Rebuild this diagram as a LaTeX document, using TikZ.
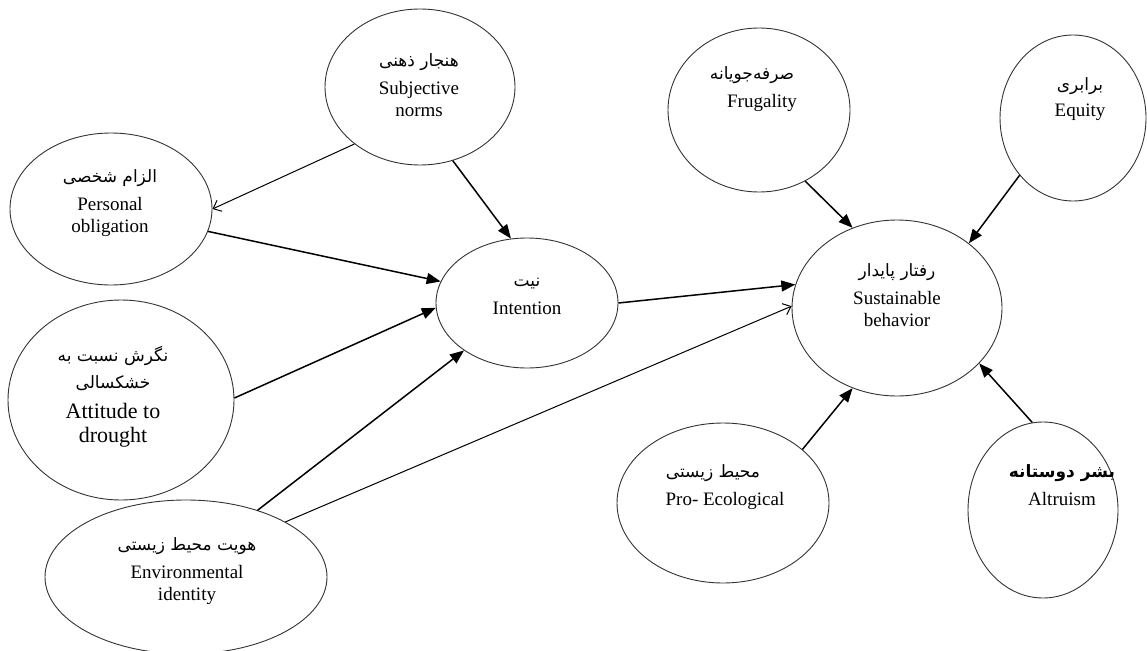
\documentclass[tikz,border=0pt]{standalone}
\usepackage{fontspec}
\setmainfont{Liberation Serif}
\newfontfamily\fafont[Script=Arabic]{DejaVu Sans}
\TeXXeTstate=1
\usetikzlibrary{shapes.geometric,arrows.meta}
\newcommand\fatxt[1]{{\fafont\fontsize{17}{19}\selectfont\beginR #1\endR}}
\begin{document}
\begin{tikzpicture}[x=1pt,y=-1pt,
  ell/.style={draw=black!80, line width=0.9pt, ellipse, inner sep=0pt},
  lbl/.style={align=center, font=\fontsize{19}{22}\selectfont, inner sep=0pt},
  solidarrow/.style={-{Triangle[length=14pt,width=11pt]}, line width=1.5pt},
  openarrow/.style={-{Straight Barb[length=7pt,width=12pt]}, line width=1pt}]
\useasboundingbox (0,0) rectangle (1147,650);
% ellipses
\node[ell, minimum width=190pt, minimum height=156pt] (sn) at (420,87) {};
\node[ell, minimum width=202pt, minimum height=152pt] (po) at (111,209) {};
\node[ell, minimum width=226pt, minimum height=200pt] (at) at (121,400) {};
\node[ell, minimum width=282pt, minimum height=154pt] (ei) at (186,577) {};
\node[ell, minimum width=182pt, minimum height=130pt] (in) at (527,303) {};
\node[ell, minimum width=182pt, minimum height=164pt] (fr) at (759,110) {};
\node[ell, minimum width=146pt, minimum height=166pt] (eq) at (1073,118) {};
\node[ell, minimum width=210pt, minimum height=176pt] (sb) at (897,308) {};
\node[ell, minimum width=212pt, minimum height=160pt] (pe) at (723,503) {};
\node[ell, minimum width=150pt, minimum height=176pt] (al) at (1043,510) {};
% labels
\node[lbl] (snt) at (419,85) {\fatxt{هنجار ذهنی}\\[6pt]Subjective\\norms};
\node[lbl] (pot) at (110,203) {\fatxt{الزام شخصی}\\[6pt]Personal\\obligation};
\node[lbl, font=\fontsize{22}{24}\selectfont] (att) at (113,397) {\fatxt{نگرش نسبت به}\\[3pt]\fatxt{خشکسالی}\\[6pt]Attitude to\\drought};
\node[lbl] (eit) at (187,571) {\fatxt{هویت محیط زیستی}\\[6pt]Environmental\\identity};
\node[lbl] (int) at (527,296) {\fatxt{نیت}\\[6pt]Intention};
\node[lbl] (frt) at (752,89) {\fatxt{صرفه‌جویانه}\\[6pt]\hspace*{20pt}Frugality};
\node[lbl] (eqt) at (1080,99) {\fatxt{برابری}\\[4pt]Equity};
\node[lbl] (sbt) at (897,295) {\fatxt{رفتار پایدار}\\[6pt]Sustainable\\behavior};
\node[lbl] (pet) at (718,487) {\fatxt{محیط زیستی}\hspace*{10pt}\\[6pt]\hspace*{14pt}Pro- Ecological};
\node[lbl] (alt) at (1062,485) {{\bfseries\fatxt{بشر دوستانه}}\\[6pt]Altruism};
% connectors
\draw[openarrow] (sn.221) -- (po.0);
\draw[solidarrow] (sn.294) -- (in.104);
\draw[solidarrow] (po.347) -- (in.166);
\draw[solidarrow] (at.1) -- (in.183);
\draw[solidarrow] (ei.43) -- (in.217);
\draw[openarrow] (ei.29) -- (sb.179);
\draw[solidarrow] (in.0) -- (sb.167);
\draw[solidarrow] (fr.303) -- (sb.119);
\draw[solidarrow] (eq.227) -- (sb.42);
\draw[solidarrow] (pe.34) -- (sb.241);
\draw[solidarrow] (al.97) -- (sb.326);
\end{tikzpicture}
\end{document}
